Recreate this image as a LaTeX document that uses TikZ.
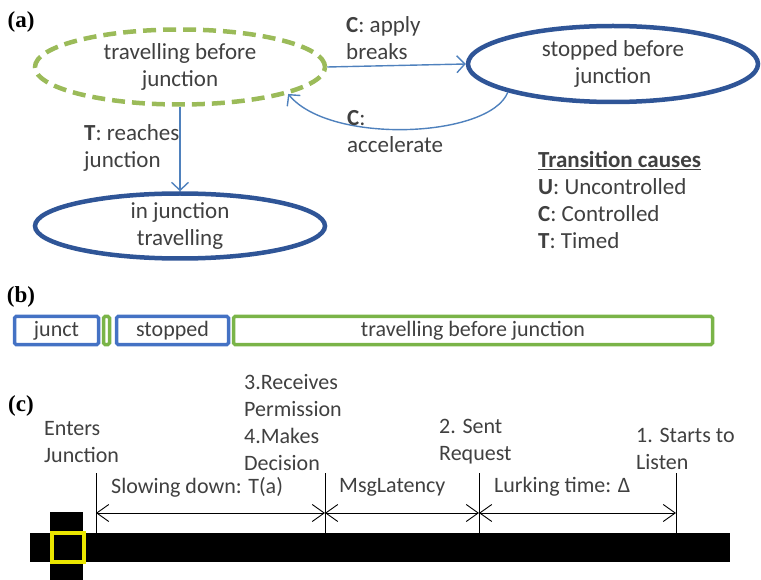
\documentclass[tikz,border=0pt]{standalone}
\usepackage{fontspec}
\setmainfont{Carlito}
\newfontfamily\panelfont{Liberation Serif}
\usepackage{tikz}
\usetikzlibrary{positioning,arrows.meta,shapes.geometric}

\definecolor{stateblue}{RGB}{47,85,151}
\definecolor{stategreen}{RGB}{155,187,89}
\definecolor{linkblue}{RGB}{79,129,189}
\definecolor{slotblue}{RGB}{68,114,196}
\definecolor{slotgreen}{RGB}{122,180,72}
\definecolor{junctyellow}{RGB}{235,230,0}
\definecolor{inkgray}{RGB}{64,64,64}

\tikzset{
  state/.style={ellipse, draw=stateblue, line width=4.5pt, inner xsep=0pt, inner ysep=-10pt, align=center, minimum width=290pt, font=\fontsize{23}{27}\selectfont},
  moving/.style={state, draw=stategreen, dash pattern=on 13pt off 7pt},
  trans/.style={draw=linkblue, line width=1.4pt, -{Straight Barb[length=8pt,width=17pt]}},
  slot/.style={draw=slotblue, line width=3.5pt, minimum height=28pt, inner sep=0pt, rounded corners=1.5pt},
  panel/.style={font=\panelfont\bfseries\fontsize{23}{23}\selectfont, text=black},
  note/.style={anchor=west, align=left, inner sep=0pt},
  bignote/.style={note, font=\fontsize{23}{27}\selectfont},
  tick/.style={line width=0.9pt},
  span/.style={line width=0.9pt, {Straight Barb[length=12pt,width=17pt]}-{Straight Barb[length=12pt,width=17pt]}}
}

\begin{document}
\begin{tikzpicture}[x=1pt,y=-1pt, font=\fontsize{22}{27}\selectfont, text=inkgray]
\useasboundingbox (0,0) rectangle (761,580);

% (a) states and transitions
\node[panel] (pa) at (21,22) {(a)};
\node[moving, minimum height=75pt] (travel) at (180,67) {travelling before\\junction};
\node[state, minimum height=76pt] (stopped) at (613,64) {stopped before\\junction};
\node[state, minimum height=65pt] (injunct) at (180,226) {in junction\\travelling};

\draw[trans] (travel.east) -- (stopped.west);
\draw[trans] (stopped.195) .. controls (490,138) and (330,145) .. (travel.-14);
\draw[trans] (travel.south) -- (travel.south |- injunct.north);

\node[bignote] (brake) at (346,38) {\textbf{C}: apply\\breaks};
\node[bignote] (accel) at (347,132) {\textbf{C}:\\accelerate};
\node[bignote] (reach) at (84,148) {\textbf{T}: reaches\\junction};
\node[bignote] (causes) at (538,200) {\underline{\textbf{Transition causes}}\\\textbf{U}: Uncontrolled\\\textbf{C}: Controlled\\\textbf{T}: Timed};

% (b) time line of states
\node[panel] (pb) at (21,297) {(b)};
\node[slot, minimum width=84pt] (sjunct) at (56.5,330.5) {junct};
\node[slot, draw=slotgreen, minimum width=6pt, right=1.5pt of sjunct] (sgap) {};
\node[slot, minimum width=112pt, right=3.5pt of sgap] (sstop) {stopped};
\node[slot, draw=slotgreen, minimum width=479pt, right=1.5pt of sstop] (stravel) {travelling before junction};

% (c) road and message timing
\node[panel] (pc) at (21,406) {(c)};
\fill (30,533) rectangle (730,562);
\fill (50,512) rectangle (83,580);
\draw[junctyellow, line width=4pt] (52,533) rectangle (84,562);

\coordinate (entry) at (96,513);
\coordinate (permit) at (325,513);
\coordinate (request) at (479,513);
\coordinate (listen) at (676,513);
\foreach \c in {entry,permit,request,listen}
  \draw[tick] ([yshift=40pt]\c) -- ([yshift=-20pt]\c);
\draw[span] (entry) -- (permit);
\draw[span] (permit) -- (request);
\draw[span] (request) -- (listen);

\node[note] (enters) at (44,442) {Enters\\Junction};
\node[note] (receives) at (244,423) {3.Receives\\Permission\\4.Makes\\Decision};
\node[note] (sent) at (439,442) {2. Sent\\Request};
\node[note] (starts) at (636,449) {1. Starts to\\Listen};
\node[note] (slowing) at (111,487) {Slowing down: T(a)};
\node[note] (latency) at (339,487) {MsgLatency};
\node[note] (lurking) at (494,487) {Lurking time: Δ};
\end{tikzpicture}
\end{document}
